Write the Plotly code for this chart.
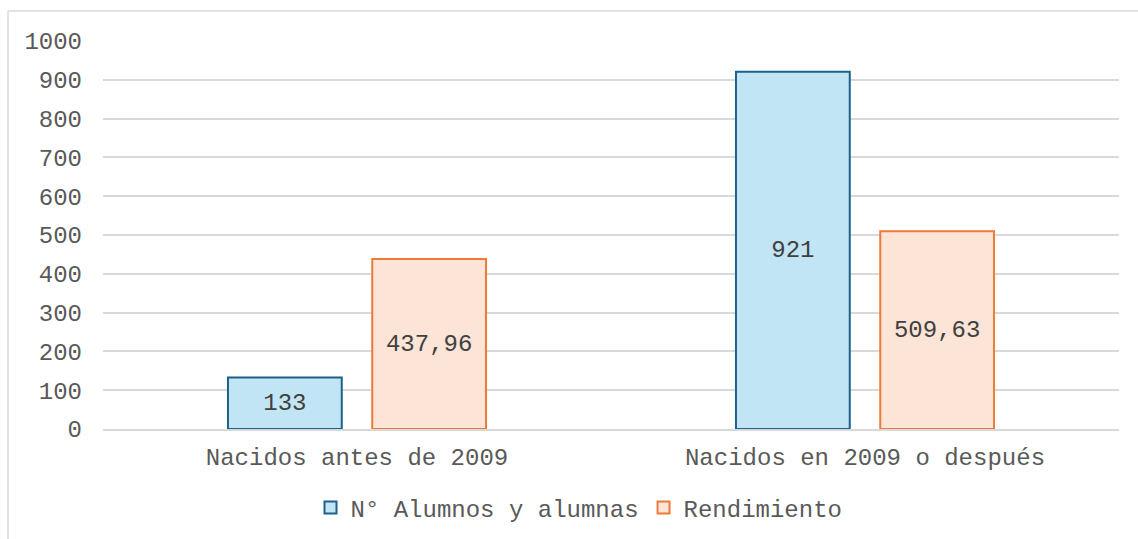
import plotly.graph_objects as go

categories = ["Nacidos antes de 2009", "Nacidos en 2009 o después"]
alumnos = [133, 921]
rendimiento = [437.96, 509.63]
alumnos_labels = ["133", "921"]
rendimiento_labels = ["437,96", "509,63"]
y_ticks = [0, 100, 200, 300, 400, 500, 600, 700, 800, 900, 1000]

FONT = "Liberation Mono, Courier New, monospace"
GREY = "#595959"
FS = 24

W, H = 1138, 539
ML, MR, MT, MB = 103, 19, 41, 110
PW, PH = W - ML - MR, H - MT - MB

fig = go.Figure()
fig.add_trace(go.Bar(
    name="N° Alumnos y alumnas",
    x=categories, y=alumnos,
    text=alumnos_labels, textposition="inside", insidetextanchor="middle",
    textfont=dict(family=FONT, size=FS, color="#404040"),
    marker=dict(color="#C1E5F5", line=dict(color="#1B6189", width=2)),
    width=0.224, offset=-0.254,
))
fig.add_trace(go.Bar(
    name="Rendimiento",
    x=categories, y=rendimiento,
    text=rendimiento_labels, textposition="inside", insidetextanchor="middle",
    textfont=dict(family=FONT, size=FS, color="#404040"),
    marker=dict(color="#FCE4D6", line=dict(color="#EE7A3A", width=2)),
    width=0.224, offset=0.030,
))

# outer chart frame: left and top edges
def px_x(p):
    return (p - ML) / PW

def px_y(p):
    return (H - MB - p) / PH

frame = dict(color="#D9D9D9", width=1.5)
fig.add_shape(type="line", xref="paper", yref="paper",
              x0=px_x(8), x1=px_x(8), y0=px_y(11), y1=px_y(H + 5),
              line=frame, layer="below")
fig.add_shape(type="line", xref="paper", yref="paper",
              x0=px_x(8), x1=px_x(W + 5), y0=px_y(11), y1=px_y(11),
              line=frame, layer="below")

fig.update_layout(
    width=W, height=H,
    margin=dict(l=ML, r=MR, t=MT, b=MB, autoexpand=False),
    paper_bgcolor="white", plot_bgcolor="white",
    font=dict(family=FONT, size=FS, color=GREY),
    barmode="group",
    showlegend=True,
    legend=dict(orientation="h", x=px_x(579), xanchor="center",
                y=px_y(508), yanchor="middle",
                font=dict(family=FONT, size=FS, color=GREY),
                itemwidth=30, traceorder="normal"),
    xaxis=dict(showgrid=False, showline=True, linecolor="#D9D9D9", linewidth=1.5,
               ticks="", tickfont=dict(family=FONT, size=FS, color=GREY),
               ticklabelstandoff=5),
    yaxis=dict(range=[0, 1000], tickvals=y_ticks, showgrid=True,
               gridcolor="#D9D9D9", gridwidth=1.5, zeroline=False,
               showline=False, ticks="",
               tickfont=dict(family=FONT, size=FS, color=GREY),
               ticklabelstandoff=20),
)

fig.write_html("out.html")
